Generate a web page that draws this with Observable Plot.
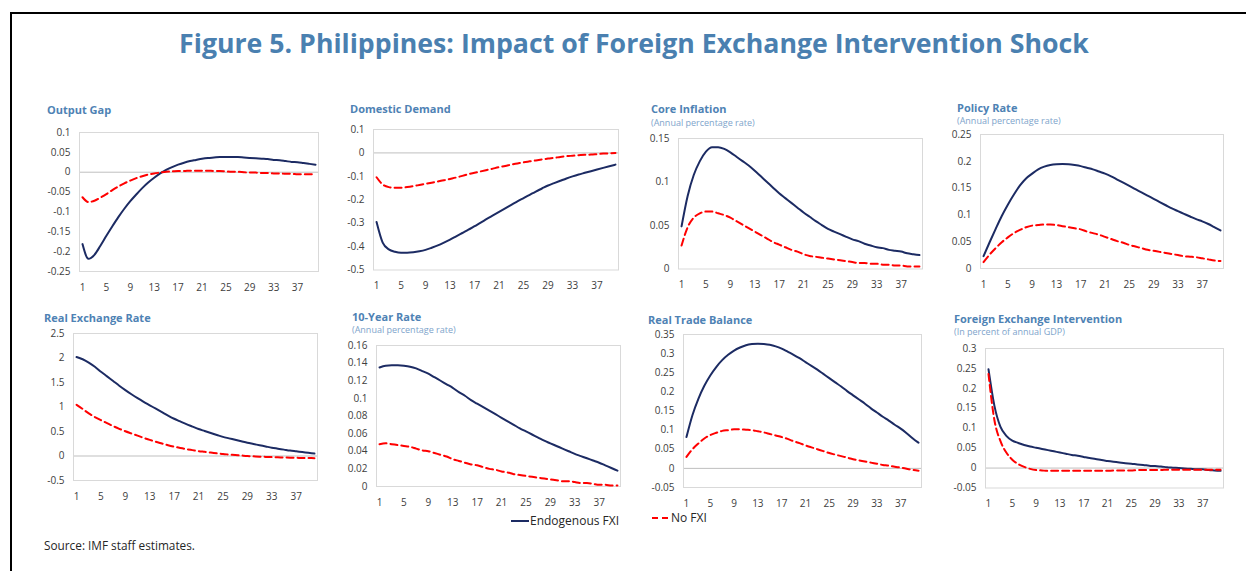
<!DOCTYPE html>
<html>
<head>
<meta charset="utf-8">
<script src="https://cdn.jsdelivr.net/npm/d3@7"></script>
<script src="https://cdn.jsdelivr.net/npm/@observablehq/plot@0.6"></script>
<style>
  html, body { margin: 0; padding: 0; background: #fff; }
  body { width: 1246px; height: 571px; overflow: hidden; position: relative; font-family: "Open Sans", "Noto Sans", sans-serif; }
  #frame { position: absolute; left: 10px; top: 12px; width: 1300px; height: 700px; border: 2px solid #000; box-sizing: border-box; }
  .abs { position: absolute; white-space: nowrap; }
  #title { left: 0; width: 1268px; top: 27px; text-align: center; font-size: 26.7px; font-weight: 700; color: #4a80b0; line-height: 32px; }
  .ptitle { font-size: 11px; font-weight: 700; color: #4e82b4; line-height: 14px; }
  .psub { font-size: 9px; color: #7ea4cb; line-height: 10px; }
  .legend { font-size: 12px; color: #262626; line-height: 14px; display: flex; align-items: center; }
  #source { left: 44px; top: 537px; font-size: 11.8px; color: #262626; line-height: 16px; }
</style>
</head>
<body>
<div id="frame"></div>
<div id="title" class="abs">Figure 5. Philippines: Impact of Foreign Exchange Intervention Shock</div>
<div id="source" class="abs">Source: IMF staff estimates.</div>
<script>
// ---- Data ----
const periods = [1,2,3,4,5,6,7,8,9,10,11,12,13,14,15,16,17,18,19,20,21,22,23,24,25,26,27,28,29,30,31,32,33,34,35,36,37,38,39,40];
const xTickLabels = [1,5,9,13,17,21,25,29,33,37];
const seriesNames = ["Endogenous FXI", "No FXI"];

const outputGapEndo = [-0.181,-0.218,-0.208,-0.185,-0.160,-0.136,-0.113,-0.092,-0.073,-0.056,-0.040,-0.026,-0.014,-0.003,0.006,0.013,0.019,0.024,0.028,0.031,0.034,0.036,0.037,0.038,0.038,0.038,0.038,0.037,0.036,0.035,0.034,0.033,0.031,0.030,0.028,0.026,0.025,0.023,0.021,0.019];
const outputGapNoFxi = [-0.063,-0.075,-0.072,-0.064,-0.055,-0.045,-0.036,-0.028,-0.021,-0.015,-0.010,-0.006,-0.003,-0.001,0.001,0.002,0.003,0.003,0.004,0.004,0.004,0.004,0.003,0.003,0.002,0.001,0.001,0.000,-0.001,-0.001,-0.002,-0.002,-0.003,-0.003,-0.004,-0.004,-0.005,-0.005,-0.005,-0.006];

const domDemandEndo = [-0.295,-0.383,-0.412,-0.422,-0.426,-0.426,-0.424,-0.420,-0.414,-0.405,-0.395,-0.383,-0.370,-0.356,-0.342,-0.328,-0.313,-0.298,-0.282,-0.267,-0.252,-0.237,-0.222,-0.207,-0.193,-0.179,-0.165,-0.152,-0.139,-0.129,-0.119,-0.109,-0.100,-0.092,-0.085,-0.078,-0.071,-0.064,-0.057,-0.050];
const domDemandNoFxi = [-0.104,-0.135,-0.146,-0.149,-0.149,-0.146,-0.142,-0.137,-0.132,-0.127,-0.122,-0.117,-0.111,-0.105,-0.098,-0.091,-0.085,-0.079,-0.073,-0.067,-0.061,-0.056,-0.050,-0.045,-0.040,-0.036,-0.032,-0.028,-0.024,-0.021,-0.017,-0.014,-0.012,-0.010,-0.008,-0.007,-0.005,-0.003,-0.002,0.000];

const coreInflEndo = [0.049,0.084,0.108,0.124,0.135,0.140,0.140,0.138,0.134,0.129,0.124,0.119,0.113,0.1065,0.100,0.0935,0.087,0.0815,0.076,0.0705,0.065,0.060,0.055,0.0505,0.046,0.043,0.040,0.037,0.034,0.032,0.029,0.027,0.025,0.024,0.022,0.021,0.020,0.018,0.017,0.016];
const coreInflNoFxi = [0.027,0.048,0.059,0.064,0.066,0.066,0.064,0.062,0.059,0.055,0.051,0.047,0.043,0.039,0.035,0.031,0.028,0.025,0.022,0.020,0.017,0.015,0.014,0.013,0.012,0.011,0.010,0.009,0.008,0.007,0.007,0.006,0.006,0.005,0.005,0.004,0.004,0.003,0.003,0.003];

const policyRateEndo = [0.023,0.049,0.074,0.098,0.119,0.138,0.155,0.168,0.177,0.185,0.190,0.193,0.1945,0.195,0.1945,0.193,0.191,0.188,0.185,0.181,0.177,0.172,0.166,0.160,0.154,0.148,0.142,0.136,0.130,0.124,0.118,0.112,0.107,0.102,0.097,0.092,0.088,0.083,0.077,0.071];
const policyRateNoFxi = [0.012,0.026,0.038,0.049,0.058,0.066,0.072,0.077,0.080,0.081,0.082,0.082,0.081,0.079,0.077,0.075,0.073,0.069,0.066,0.063,0.059,0.055,0.051,0.048,0.044,0.041,0.038,0.035,0.033,0.031,0.029,0.027,0.025,0.023,0.022,0.021,0.019,0.017,0.015,0.014];

const rerEndo = [2.02,1.975,1.905,1.82,1.72,1.625,1.53,1.435,1.345,1.26,1.18,1.105,1.035,0.965,0.895,0.825,0.76,0.705,0.65,0.60,0.55,0.51,0.47,0.43,0.39,0.36,0.33,0.30,0.27,0.245,0.22,0.195,0.17,0.15,0.13,0.11,0.095,0.08,0.065,0.05];
const rerNoFxi = [1.045,0.96,0.87,0.795,0.73,0.67,0.61,0.555,0.505,0.46,0.415,0.37,0.33,0.29,0.255,0.22,0.19,0.165,0.14,0.12,0.10,0.085,0.07,0.055,0.04,0.03,0.02,0.01,0.0,-0.007,-0.013,-0.018,-0.023,-0.027,-0.031,-0.034,-0.037,-0.040,-0.042,-0.044];

const tenYearEndo = [0.135,0.137,0.1375,0.1375,0.137,0.136,0.134,0.131,0.128,0.124,0.120,0.116,0.112,0.107,0.103,0.098,0.094,0.090,0.086,0.082,0.078,0.074,0.070,0.066,0.0625,0.059,0.0555,0.052,0.049,0.046,0.043,0.040,0.037,0.0345,0.032,0.0295,0.027,0.024,0.021,0.018];
const tenYearNoFxi = [0.048,0.049,0.048,0.047,0.046,0.045,0.043,0.041,0.040,0.038,0.036,0.034,0.031,0.029,0.027,0.025,0.024,0.022,0.020,0.019,0.017,0.016,0.014,0.013,0.012,0.011,0.010,0.009,0.008,0.007,0.006,0.006,0.005,0.004,0.004,0.003,0.002,0.002,0.001,0.001];

const tradeBalEndo = [0.082,0.139,0.182,0.216,0.243,0.265,0.283,0.297,0.308,0.316,0.322,0.325,0.326,0.325,0.323,0.319,0.313,0.305,0.297,0.288,0.278,0.268,0.258,0.247,0.236,0.225,0.214,0.202,0.191,0.180,0.169,0.157,0.146,0.135,0.125,0.114,0.104,0.092,0.079,0.067];
const tradeBalNoFxi = [0.030,0.050,0.065,0.078,0.087,0.093,0.098,0.100,0.102,0.102,0.101,0.100,0.097,0.094,0.090,0.086,0.082,0.077,0.071,0.066,0.060,0.055,0.050,0.045,0.040,0.036,0.032,0.028,0.024,0.021,0.018,0.015,0.012,0.009,0.007,0.004,0.002,-0.001,-0.004,-0.006];

const fxiEndo = [0.248,0.156,0.104,0.081,0.069,0.063,0.058,0.054,0.051,0.048,0.045,0.042,0.039,0.036,0.033,0.031,0.028,0.025,0.023,0.020,0.018,0.016,0.014,0.012,0.011,0.009,0.008,0.006,0.005,0.004,0.002,0.001,0.000,-0.001,-0.002,-0.003,-0.003,-0.005,-0.006,-0.007];
const fxiNoFxi = [0.236,0.120,0.068,0.039,0.021,0.010,0.003,-0.002,-0.005,-0.006,-0.007,-0.007,-0.007,-0.007,-0.007,-0.007,-0.007,-0.007,-0.007,-0.007,-0.007,-0.006,-0.006,-0.006,-0.006,-0.005,-0.005,-0.005,-0.005,-0.005,-0.004,-0.004,-0.004,-0.004,-0.004,-0.004,-0.004,-0.004,-0.004,-0.004];

const panelTitles = ["Output Gap","Domestic Demand","Core Inflation","Policy Rate","Real Exchange Rate","10-Year Rate","Real Trade Balance","Foreign Exchange Intervention"];
const panelSubtitles = ["","","(Annual percentage rate)","(Annual percentage rate)","","(Annual percentage rate)","","(In percent of annual GDP)"];
const yTicksList = [
  [-0.25,-0.2,-0.15,-0.1,-0.05,0,0.05,0.1],
  [-0.5,-0.4,-0.3,-0.2,-0.1,0,0.1],
  [0,0.05,0.1,0.15],
  [0,0.05,0.1,0.15,0.2,0.25],
  [-0.5,0,0.5,1,1.5,2,2.5],
  [0,0.02,0.04,0.06,0.08,0.1,0.12,0.14,0.16],
  [-0.05,0,0.05,0.1,0.15,0.2,0.25,0.3,0.35],
  [-0.05,0,0.05,0.1,0.15,0.2,0.25,0.3]
];
const endoSeries = [outputGapEndo, domDemandEndo, coreInflEndo, policyRateEndo, rerEndo, tenYearEndo, tradeBalEndo, fxiEndo];
const noFxiSeries = [outputGapNoFxi, domDemandNoFxi, coreInflNoFxi, policyRateNoFxi, rerNoFxi, tenYearNoFxi, tradeBalNoFxi, fxiNoFxi];

// ---- Layout (page pixels) ----
const NAVY = "#1c2b63", RED = "#ff0000";
const layout = [
  {l:79,  r:318,  t:131.5, b:270.5, tx:47,  ty:110, sy:null},
  {l:373, r:618,  t:128.5, b:269,   tx:350, ty:109, sy:null},
  {l:678, r:922,  t:137.5, b:268,   tx:651, ty:109, sy:123},
  {l:980, r:1223, t:134,   b:268,   tx:957, ty:108, sy:121},
  {l:73,  r:317,  t:333,   b:480,   tx:44,  ty:318, sy:null},
  {l:376, r:620,  t:345,   b:486,   tx:352, ty:317, sy:330},
  {l:683, r:921,  t:334,   b:487,   tx:648, ty:320, sy:null},
  {l:985, r:1223, t:347.5, b:487,   tx:954, ty:319, sy:332}
];

const fmtY = d => String(+d.toFixed(3)).replace("\u2212", "-");

layout.forEach((p, i) => {
  const ml = 50, mr = 6, mt = 8, mb = 28;
  const ticks = yTicksList[i];
  const rows = periods.map((t, k) => ({t, v: endoSeries[i][k], s: seriesNames[0]}));
  const rowsNo = periods.map((t, k) => ({t, v: noFxiSeries[i][k], s: seriesNames[1]}));
  const hasNeg = ticks[0] < 0;
  const svg = Plot.plot({
    width: (p.r - p.l) + ml + mr,
    height: (p.b - p.t) + mt + mb,
    marginLeft: ml, marginRight: mr, marginTop: mt, marginBottom: mb,
    style: {fontFamily: "'Open Sans', sans-serif", fontSize: "10px", color: "#404040", background: "transparent", overflow: "visible"},
    x: {type: "linear", domain: [0.5, 40.5], ticks: xTickLabels, tickSize: 0, tickPadding: 12, tickFormat: d => String(d), label: null},
    y: {domain: [ticks[0], ticks[ticks.length - 1]], ticks: ticks, tickSize: 0, tickPadding: 9, tickFormat: fmtY, label: null},
    marks: [
      hasNeg ? Plot.ruleY([0], {stroke: "#bfbfbf", strokeWidth: 1}) : null,
      Plot.frame({stroke: "#d9d9d9", strokeWidth: 1}),
      Plot.line(rows, {x: "t", y: "v", stroke: NAVY, strokeWidth: 2, curve: "monotone-x"}),
      Plot.line(rowsNo, {x: "t", y: "v", stroke: RED, strokeWidth: 2, strokeDasharray: "7,4", curve: "monotone-x"})
    ]
  });
  svg.style.position = "absolute";
  svg.style.left = (p.l - ml) + "px";
  svg.style.top = (p.t - mt) + "px";
  document.body.appendChild(svg);

  const tt = document.createElement("div");
  tt.className = "abs ptitle";
  tt.textContent = panelTitles[i];
  tt.style.left = p.tx + "px";
  tt.style.top = (p.ty - 7) + "px";
  document.body.appendChild(tt);
  if (p.sy !== null && panelSubtitles[i]) {
    const st = document.createElement("div");
    st.className = "abs psub";
    st.textContent = panelSubtitles[i];
    st.style.left = p.tx + "px";
    st.style.top = (p.sy - 5) + "px";
    document.body.appendChild(st);
  }
});

// ---- Legend ----
function legendItem(name, color, dash, x, y) {
  const d = document.createElement("div");
  d.className = "abs legend";
  d.style.left = x + "px";
  d.style.top = (y - 7) + "px";
  d.innerHTML = `<svg width="18" height="6" style="margin-right:1px"><line x1="0" x2="18" y1="3" y2="3" stroke="${color}" stroke-width="2" ${dash ? 'stroke-dasharray="6,4"' : ''}/></svg><span>${name}</span>`;
  document.body.appendChild(d);
}
legendItem(seriesNames[0], NAVY, false, 511, 521);
legendItem(seriesNames[1], RED, true, 652, 518);
</script>
</body>
</html>
